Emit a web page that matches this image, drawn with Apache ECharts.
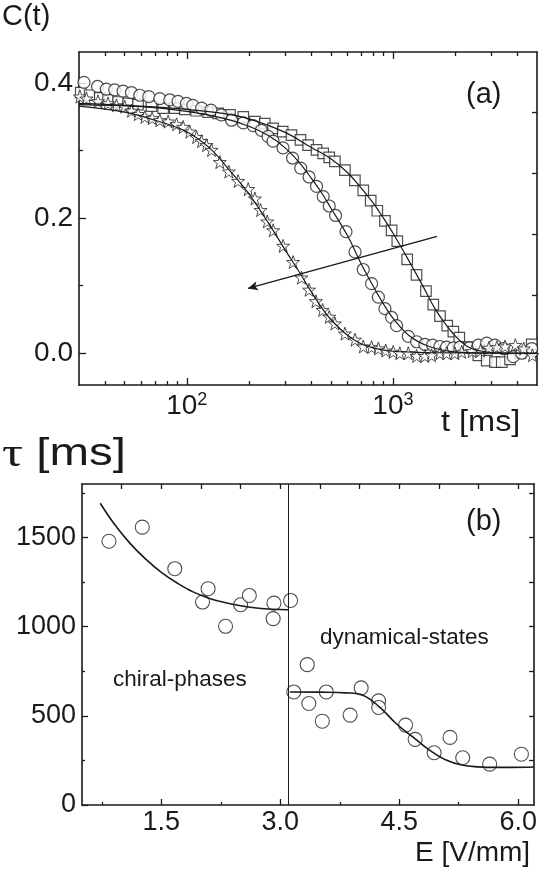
<!DOCTYPE html>
<html><head><meta charset="utf-8">
<script src="https://cdn.jsdelivr.net/npm/echarts@6/dist/echarts.min.js"></script>
<style>html,body{margin:0;padding:0;background:#fff}#c{width:540px;height:871px}</style>
</head><body><div id="c"></div>
<script>
// ---------- Panel (a): C(t) vs t [ms] ----------
const circT = [31.7, 36.9, 40.7, 44.7, 49.1, 53.9, 59.2, 65.4, 74.0, 82.7, 90.7, 99.7, 107, 118, 131, 147, 165, 188, 210, 230, 248, 262, 293, 326, 357, 392, 426, 459, 491, 527, 592, 655, 718, 788, 850, 915, 986, 1042, 1187, 1303, 1430, 1559, 1690, 1822, 1964, 2115, 2346, 2595, 2851, 3127, 3429, 3837, 4214, 4713];
const circC = [0.401, 0.395, 0.391, 0.390, 0.388, 0.386, 0.382, 0.380, 0.377, 0.375, 0.373, 0.370, 0.367, 0.363, 0.360, 0.353, 0.345, 0.341, 0.337, 0.330, 0.321, 0.314, 0.304, 0.289, 0.274, 0.261, 0.247, 0.232, 0.218, 0.204, 0.180, 0.150, 0.124, 0.103, 0.083, 0.066, 0.053, 0.041, 0.025, 0.017, 0.013, 0.012, 0.010, 0.009, 0.008, 0.009, 0.008, 0.012, 0.015, 0.012, 0.007, -0.005, 0.000, 0.007];

const sqT = [30.6, 33.8, 37.8, 41.5, 46.4, 51.9, 58.0, 67.4, 76.8, 87.5, 97.8, 111, 127, 142, 162, 188, 214, 239, 262, 292, 322, 356, 388, 426, 459, 491, 523, 585, 654, 718, 780, 840, 915, 985, 1050, 1173, 1302, 1446, 1570, 1692, 1835, 1964, 2099, 2323, 2595, 2851, 3127, 3373, 3699, 4138, 4713];
const sqC = [0.386, 0.382, 0.378, 0.375, 0.372, 0.370, 0.368, 0.366, 0.363, 0.363, 0.361, 0.359, 0.357, 0.355, 0.353, 0.350, 0.343, 0.340, 0.333, 0.328, 0.323, 0.316, 0.308, 0.301, 0.296, 0.290, 0.284, 0.271, 0.256, 0.241, 0.226, 0.211, 0.196, 0.182, 0.166, 0.139, 0.116, 0.092, 0.072, 0.055, 0.041, 0.032, 0.023, 0.009, -0.003, -0.011, -0.013, -0.013, -0.009, 0.000, 0.013];

const starT = [30.3, 32.6, 37.1, 41.5, 45.6, 50.0, 53.9, 58.1, 62.6, 67.9, 74.0, 81.2, 89.2, 96.0, 103.4, 111.5, 117.9, 124.6, 131.8, 144.6, 159.9, 177.4, 198.6, 214, 228, 245.6, 262.6, 293.3, 328, 360, 392, 423, 456, 491, 523, 585, 655, 718, 788, 850, 923, 1003, 1080, 1187, 1303, 1430, 1540, 1690, 1822, 2000, 2156, 2420, 2660, 2922, 3196, 3500, 3927, 4310, 4750];
const starC = [0.380, 0.377, 0.373, 0.370, 0.367, 0.365, 0.359, 0.354, 0.350, 0.348, 0.345, 0.343, 0.339, 0.335, 0.328, 0.320, 0.314, 0.308, 0.301, 0.283, 0.269, 0.255, 0.243, 0.229, 0.212, 0.195, 0.182, 0.159, 0.135, 0.112, 0.094, 0.077, 0.064, 0.054, 0.044, 0.029, 0.020, 0.010, 0.009, 0.007, 0.004, 0.002, 0.000, 0.000, -0.004, -0.004, -0.003, 0.000, 0.000, 0.000, 0.002, 0.003, 0.004, 0.008, 0.009, 0.010, 0.012, 0.007, -0.003];

const sqFitT = [30, 50, 100, 150, 200, 300, 400, 500, 600, 700, 800, 900, 1000, 1200, 1400, 1600, 1800, 2000, 2300, 2700, 3500, 5000];
const sqFitC = [0.370, 0.367, 0.361, 0.355, 0.347, 0.327, 0.305, 0.288, 0.268, 0.245, 0.223, 0.200, 0.178, 0.136, 0.099, 0.066, 0.043, 0.026, 0.010, 0.003, 0.000, 0.000];
const circFitT = [30, 60, 100, 150, 200, 250, 300, 350, 400, 450, 500, 600, 700, 800, 900, 1000, 1200, 1500, 2000, 3000, 5000];
const circFitC = [0.368, 0.365, 0.358, 0.348, 0.336, 0.322, 0.304, 0.283, 0.260, 0.238, 0.215, 0.175, 0.133, 0.100, 0.073, 0.052, 0.026, 0.010, 0.002, 0.000, 0.000];
const starFitT = [30, 50, 70, 100, 130, 160, 200, 250, 300, 350, 400, 450, 500, 600, 700, 800, 1000, 1500, 5000];
const starFitC = [0.366, 0.357, 0.345, 0.328, 0.303, 0.272, 0.236, 0.192, 0.153, 0.121, 0.092, 0.068, 0.050, 0.027, 0.014, 0.008, 0.003, 0.001, 0.000];

const arrowFrom = [1637, 0.173];
const arrowTo = [198, 0.096];

const aXLabelTicks = [100, 1000];
const aXMinorTicks = [40, 50, 60, 70, 80, 90, 200, 300, 400, 500, 600, 700, 800, 900, 2000, 3000, 4000];
const aYLabelTicks = [0, 0.2, 0.4];
const aYMinorTicks = [0.1, 0.3];
const aYRightTicks = [-0.004, 0.086, 0.176, 0.266, 0.357];

// ---------- Panel (b): tau vs E ----------
const eVals = [0.84, 1.26, 1.67, 2.02, 2.09, 2.31, 2.50, 2.61, 2.91, 2.92, 3.13, 3.17, 3.34, 3.36, 3.53, 3.58, 3.88, 4.02, 4.24, 4.24, 4.58, 4.70, 4.94, 5.14, 5.30, 5.64, 6.04];
const tauVals = [1479, 1558, 1325, 1138, 1213, 1002, 1123, 1175, 1045, 1132, 1147, 634, 787, 569, 470, 634, 504, 657, 584, 547, 448, 368, 293, 379, 265, 229, 285];

const fit1E = [0.73, 0.9, 1.1, 1.3, 1.5, 1.7, 1.9, 2.1, 2.3, 2.5, 2.7, 2.9, 3.1];
const fit1Tau = [1692, 1580, 1470, 1380, 1305, 1245, 1195, 1160, 1135, 1117, 1105, 1098, 1095];
const fit2E = [3.12, 3.5, 3.83, 4.04, 4.25, 4.46, 4.67, 4.88, 5.09, 5.29, 5.5, 5.71, 5.9, 6.2];
const fit2Tau = [634, 633, 629, 616, 550, 457, 382, 308, 252, 224, 214, 211, 211, 213];

const boundaryE = 3.1;

const bXLabelTicks = [1.5, 3.0, 4.5, 6.0];
const bXMinorTicks = [0.75, 2.25, 3.75, 5.25];
const bXTopTicks = [1, 1.5, 2, 2.5, 3, 3.5, 4, 4.5, 5, 5.5, 6];
const bYLabelTicks = [0, 500, 1000, 1500];
const bYMinorTicks = [250, 750, 1250, 1750];
const bYRightTicks = [250, 500, 750, 1000, 1250, 1500, 1750];

// ---------- chart ----------
const FONT = '"Liberation Sans", Arial, Helvetica, sans-serif';
const SERIF = '"Liberation Serif", "DejaVu Serif", serif';
const INK = '#1a1a1a';
const zip = (a, b) => a.map((v, i) => [v, b[i]]);
const starPath = 'path://M0,-10L2.35,-3.24L9.51,-3.09L3.8,1.24L5.88,8.09L0,4L-5.88,8.09L-3.8,1.24L-9.51,-3.09L-2.35,-3.24Z';

function tickAxis(base, ticks, len, showLine) {
  return Object.assign({
    axisLine: { show: !!showLine, onZero: false, lineStyle: { color: INK, width: 1.6 } },
    axisTick: { show: true, inside: true, length: len, customValues: ticks, lineStyle: { color: INK, width: 1.3 } },
    axisLabel: { show: false },
    splitLine: { show: false }
  }, base);
}

const labelA = { color: INK, fontFamily: FONT, fontSize: 28 };
const labelB = { color: INK, fontFamily: FONT, fontSize: 27 };

const option = {
  animation: false,
  backgroundColor: '#fff',
  grid: [
    { left: 79, top: 52, width: 458, height: 333 },
    { left: 82, top: 484, width: 453, height: 321 }
  ],
  xAxis: [
    Object.assign(tickAxis({ gridIndex: 0, type: 'log', logBase: 10, min: 30, max: 5000, position: 'bottom' }, aXLabelTicks, 7, true), {
      axisLabel: {
        show: true, customValues: aXLabelTicks, margin: 6,
        formatter: v => '{b|10}{s|' + Math.round(Math.log10(v)) + '}',
        rich: {
          b: { fontFamily: FONT, fontSize: 28, color: INK, lineHeight: 30 },
          s: { fontFamily: FONT, fontSize: 18, color: INK, verticalAlign: 'top', lineHeight: 30 }
        }
      }
    }),
    tickAxis({ gridIndex: 0, type: 'log', logBase: 10, min: 30, max: 5000, position: 'bottom' }, aXMinorTicks, 4, false),
    tickAxis({ gridIndex: 0, type: 'log', logBase: 10, min: 30, max: 5000, position: 'top' }, aXLabelTicks, 7, true),
    tickAxis({ gridIndex: 0, type: 'log', logBase: 10, min: 30, max: 5000, position: 'top' }, aXMinorTicks, 4, false),
    Object.assign(tickAxis({ gridIndex: 1, type: 'value', min: 0.5, max: 6.2, position: 'bottom' }, bXLabelTicks, 6, true), {
      axisLabel: { show: true, customValues: bXLabelTicks, margin: 4, formatter: v => v.toFixed(1), ...labelB }
    }),
    tickAxis({ gridIndex: 1, type: 'value', min: 0.5, max: 6.2, position: 'bottom' }, bXMinorTicks, 3, false),
    tickAxis({ gridIndex: 1, type: 'value', min: 0.5, max: 6.2, position: 'top' }, bXTopTicks, 5, true)
  ],
  yAxis: [
    Object.assign(tickAxis({ gridIndex: 0, type: 'value', min: -0.047, max: 0.446, position: 'left' }, aYLabelTicks, 7, true), {
      axisLabel: { show: true, customValues: aYLabelTicks, margin: 6, formatter: v => v.toFixed(1), ...labelA }
    }),
    tickAxis({ gridIndex: 0, type: 'value', min: -0.047, max: 0.446, position: 'left' }, aYMinorTicks, 4, false),
    tickAxis({ gridIndex: 0, type: 'value', min: -0.047, max: 0.446, position: 'right' }, aYRightTicks, 5, true),
    Object.assign(tickAxis({ gridIndex: 1, type: 'value', min: 0, max: 1800, position: 'left' }, bYLabelTicks, 6, true), {
      axisLabel: { show: true, customValues: bYLabelTicks, margin: 6, formatter: v => String(Math.round(v)), ...labelB }
    }),
    tickAxis({ gridIndex: 1, type: 'value', min: 0, max: 1800, position: 'left' }, bYMinorTicks, 3, false),
    tickAxis({ gridIndex: 1, type: 'value', min: 0, max: 1800, position: 'right' }, bYRightTicks, 5, true)
  ],
  series: [
    { type: 'scatter', name: 'squares', xAxisIndex: 0, yAxisIndex: 0, data: zip(sqT, sqC), symbol: 'rect', symbolSize: 10.5,
      itemStyle: { color: '#fff', borderColor: '#222', borderWidth: 1.2 }, z: 2 },
    { type: 'scatter', name: 'circles', xAxisIndex: 0, yAxisIndex: 0, data: zip(circT, circC), symbol: 'circle', symbolSize: 12,
      itemStyle: { color: '#fff', borderColor: '#222', borderWidth: 1.2 }, z: 2 },
    { type: 'scatter', name: 'stars', xAxisIndex: 0, yAxisIndex: 0, data: zip(starT, starC), symbol: starPath, symbolSize: 13,
      itemStyle: { color: '#fff', borderColor: '#222', borderWidth: 1 }, z: 2 },
    { type: 'line', xAxisIndex: 0, yAxisIndex: 0, data: zip(sqFitT, sqFitC), showSymbol: false, smooth: 0.35,
      lineStyle: { color: INK, width: 1.2 }, z: 4, silent: true },
    { type: 'line', xAxisIndex: 0, yAxisIndex: 0, data: zip(circFitT, circFitC), showSymbol: false, smooth: 0.35,
      lineStyle: { color: INK, width: 1.2 }, z: 4, silent: true },
    { type: 'line', xAxisIndex: 0, yAxisIndex: 0, data: zip(starFitT, starFitC), showSymbol: false, smooth: 0.35,
      lineStyle: { color: INK, width: 1.2 }, z: 4, silent: true,
      markLine: { silent: true, symbol: ['none', 'arrow'], symbolSize: [7, 10], label: { show: false },
        lineStyle: { color: INK, width: 1.4, type: 'solid' },
        data: [[{ coord: arrowFrom }, { coord: arrowTo }]] } },
    { type: 'scatter', xAxisIndex: 4, yAxisIndex: 3, data: zip(eVals, tauVals), symbol: 'circle', symbolSize: 14,
      itemStyle: { color: '#fff', borderColor: '#222', borderWidth: 1.1 }, z: 2 },
    { type: 'line', xAxisIndex: 4, yAxisIndex: 3, data: zip(fit1E, fit1Tau), showSymbol: false, smooth: 0.4,
      lineStyle: { color: INK, width: 1.6 }, z: 4, silent: true,
      markLine: { silent: true, symbol: ['none', 'none'], label: { show: false },
        lineStyle: { color: INK, width: 1, type: 'solid' }, data: [{ xAxis: boundaryE }] } },
    { type: 'line', xAxisIndex: 4, yAxisIndex: 3, data: zip(fit2E, fit2Tau), showSymbol: false, smooth: 0.4,
      lineStyle: { color: INK, width: 1.6 }, z: 4, silent: true }
  ],
  graphic: [
    { type: 'text', x: 2, y: 17, style: { text: 'C(t)', font: '29px ' + FONT, fill: INK, textVerticalAlign: 'middle' } },
    { type: 'text', x: 441, y: 423, scaleX: 1.12, style: { text: 't [ms]', font: '29px ' + FONT, fill: INK, textVerticalAlign: 'middle' } },
    { type: 'text', x: 466, y: 95, style: { text: '(a)', font: '29px ' + FONT, fill: INK, textVerticalAlign: 'middle' } },
    { type: 'text', x: 2, y: 455, scaleX: 1.25, style: {
        text: '{g|τ} [ms]', font: '38px ' + FONT, fill: INK, textVerticalAlign: 'middle',
        rich: { g: { fontFamily: SERIF, fontSize: 42, fill: INK } } } },
    { type: 'text', x: 466, y: 522, style: { text: '(b)', font: '29px ' + FONT, fill: INK, textVerticalAlign: 'middle' } },
    { type: 'text', x: 320, y: 638, style: { text: 'dynamical-states', font: '22.5px ' + FONT, fill: INK, textVerticalAlign: 'middle' } },
    { type: 'text', x: 113, y: 680, style: { text: 'chiral-phases', font: '22.5px ' + FONT, fill: INK, textVerticalAlign: 'middle' } },
    { type: 'text', x: 415, y: 853, style: { text: 'E [V/mm]', font: '28px ' + FONT, fill: INK, textVerticalAlign: 'middle' } }
  ]
};
const chart = echarts.init(document.getElementById('c'));
chart.setOption(option);
</script>
</body></html>
